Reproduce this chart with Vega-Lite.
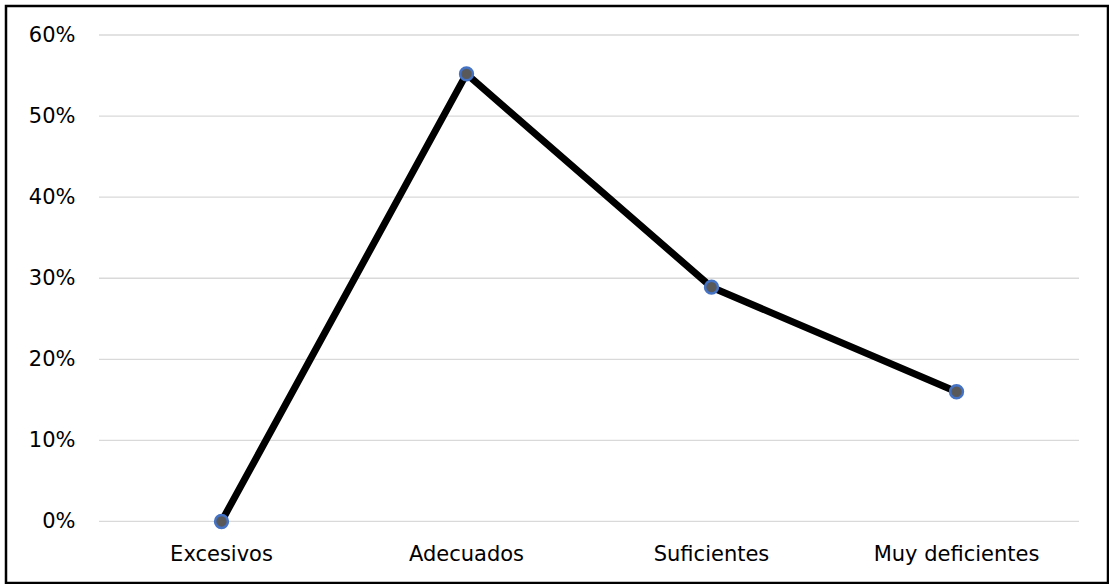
{
  "$schema": "https://vega.github.io/schema/vega-lite/v6.json",
  "width": 1109,
  "height": 584,
  "autosize": {"type": "fit", "contains": "padding"},
  "padding": {"left": 6, "top": 6, "right": 1, "bottom": 1},
  "background": "white",
  "config": {
    "view": {"stroke": "#000000", "strokeWidth": 2.5},
    "font": "DejaVu Sans"
  },
  "data": {
    "values": [
      {"nivel": "Excesivos", "porcentaje": 0.0},
      {"nivel": "Adecuados", "porcentaje": 0.552},
      {"nivel": "Suficientes", "porcentaje": 0.289},
      {"nivel": "Muy deficientes", "porcentaje": 0.16}
    ]
  },
  "layer": [
    {
      "data": {
        "values": [
          {"v": 0.0}, {"v": 0.1}, {"v": 0.2}, {"v": 0.3},
          {"v": 0.4}, {"v": 0.5}, {"v": 0.6}
        ]
      },
      "mark": {"type": "rule", "color": "#d9d9d9", "strokeWidth": 1.3},
      "encoding": {
        "x": {"datum": "Excesivos", "type": "nominal", "bandPosition": 0},
        "x2": {"datum": "Muy deficientes", "bandPosition": 1},
        "y": {
          "field": "v",
          "type": "quantitative",
          "scale": {"domain": [-0.0759, 0.6358], "nice": false, "zero": false},
          "axis": {
            "title": null,
            "values": [0, 0.1, 0.2, 0.3, 0.4, 0.5, 0.6],
            "format": ".0%",
            "offset": -73,
            "labelPadding": 4,
            "labelFontSize": 21,
            "labelColor": "#000000",
            "domain": false,
            "ticks": false,
            "grid": false
          }
        }
      }
    },
    {
      "mark": {"type": "line", "color": "#000000", "strokeWidth": 7, "strokeCap": "round", "strokeJoin": "round"},
      "encoding": {
        "x": {
          "field": "nivel",
          "type": "nominal",
          "sort": null,
          "scale": {
            "type": "band",
            "domain": ["Excesivos", "Adecuados", "Suficientes", "Muy deficientes"],
            "range": [93, 1073],
            "paddingInner": 0,
            "paddingOuter": 0
          },
          "axis": {
            "title": null,
            "orient": "bottom",
            "offset": -61.5,
            "labelPadding": 38.5,
            "labelBaseline": "alphabetic",
            "labelAlign": "center",
            "labelAngle": 0,
            "labelFontSize": 21,
            "labelColor": "#000000",
            "domain": false,
            "ticks": false,
            "grid": false
          }
        },
        "y": {
          "field": "porcentaje",
          "type": "quantitative",
          "axis": {
            "title": null,
            "values": [0, 0.1, 0.2, 0.3, 0.4, 0.5, 0.6],
            "format": ".0%",
            "offset": -73,
            "labelPadding": 4,
            "labelFontSize": 21,
            "labelColor": "#000000",
            "domain": false,
            "ticks": false,
            "grid": false
          }
        }
      }
    },
    {
      "mark": {"type": "point", "filled": true, "size": 165, "fill": "#595959", "stroke": "#4472c4", "strokeWidth": 2.5, "opacity": 1},
      "encoding": {
        "x": {"field": "nivel", "type": "nominal", "sort": null},
        "y": {"field": "porcentaje", "type": "quantitative"}
      }
    }
  ]
}
